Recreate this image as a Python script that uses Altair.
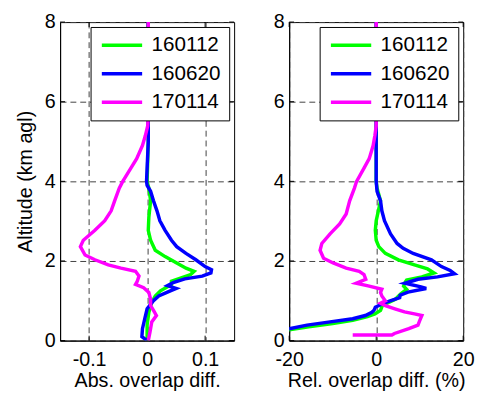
import altair as alt
import pandas as pd

series_names = ["160112", "160620", "170114"]
series_colors = ["#00ff00", "#0000ff", "#ff00ff"]

# ---- Left panel: absolute overlap difference ----
abs_g_alt = [0, 0.39, 0.71, 0.96, 1.12, 1.25, 1.41, 1.49, 1.58, 1.66, 1.74, 1.82, 1.95, 2.11, 2.27, 2.52, 2.77, 3.10, 3.51, 3.83, 4.0, 5.0, 6.0, 7.0, 8.0]
abs_g_x = [0, 0, 0.003, 0.008, 0.014, 0.023, 0.042, 0.042, 0.060, 0.075, 0.081, 0.067, 0.051, 0.031, 0.014, 0.006, 0.002, 0.003, 0.006, 0.003, 0, 0.002, 0.002, 0.002, 0.002]

abs_b_alt = [0, 0.1, 0.3, 0.55, 0.8, 1.0, 1.12, 1.25, 1.31, 1.38, 1.46, 1.55, 1.62, 1.70, 1.78, 1.86, 2.03, 2.19, 2.36, 2.52, 2.77, 3.01, 3.26, 3.51, 3.75, 3.9, 4.0, 5.0, 6.0, 7.0, 8.0]
abs_b_x = [0, -0.009, -0.008, -0.004, 0, 0.011, 0.020, 0.040, 0.050, 0.035, 0.045, 0.065, 0.095, 0.110, 0.111, 0.100, 0.084, 0.067, 0.051, 0.042, 0.031, 0.022, 0.017, 0.011, 0.006, 0.0, -0.001, 0.002, 0.002, 0.002, 0.002]

abs_m_alt = [0, 0.22, 0.47, 0.63, 0.76, 0.88, 1.04, 1.21, 1.33, 1.41, 1.49, 1.62, 1.74, 1.82, 1.90, 2.03, 2.15, 2.36, 2.52, 2.77, 3.01, 3.26, 3.51, 3.83, 4.0, 4.33, 4.57, 4.90, 5.15, 5.39, 5.64, 6.0, 7.0, 8.0]
abs_m_x = [0.002, 0.005, 0.008, 0.016, 0.011, 0.006, 0.006, 0.003, -0.006, -0.020, -0.017, -0.014, -0.020, -0.045, -0.067, -0.090, -0.107, -0.115, -0.110, -0.090, -0.073, -0.062, -0.056, -0.048, -0.042, -0.028, -0.018, -0.008, -0.003, 0.001, 0.002, 0.002, 0.002, 0.002]

# ---- Right panel: relative overlap difference (%) ----
rel_g_alt = [0.24, 0.27, 0.35, 0.43, 0.51, 0.60, 0.67, 0.76, 0.88, 1.04, 1.17, 1.29, 1.37, 1.45, 1.52, 1.60, 1.70, 1.80, 1.90, 2.03, 2.19, 2.36, 2.52, 2.77, 3.01, 3.51, 3.83, 4.0, 5.0, 6.0, 7.0, 8.0]
rel_g_x = [-24, -20, -15.5, -10, -5.4, -2.0, -0.3, 1.0, 1.4, 4.4, 5.6, 7.0, 6.3, 6.6, 7.0, 10.5, 13.3, 11.8, 8.8, 5.1, 2.1, 0.6, 0.0, -0.2, 0.0, 1.0, 0.2, 0, 0, 0, 0, 0]

rel_b_alt = [0.27, 0.30, 0.39, 0.47, 0.55, 0.63, 0.71, 0.76, 0.84, 0.92, 1.0, 1.08, 1.14, 1.22, 1.31, 1.35, 1.44, 1.54, 1.60, 1.68, 1.76, 1.86, 2.03, 2.19, 2.32, 2.44, 2.68, 3.01, 3.26, 3.51, 3.75, 4.0, 5.0, 6.0, 7.0, 8.0]
rel_b_x = [-24, -20, -15.9, -10.6, -5.4, -2.5, -1.0, -0.5, -0.2, 1.3, 3.2, 5.4, 5.5, 7.3, 11.5, 10.3, 6.6, 9.6, 14.1, 18.0, 17.0, 15.0, 12.7, 8.5, 6.2, 4.8, 3.3, 1.9, 1.3, 1.0, 0.2, 0, 0, 0, 0, 0]

rel_m_alt = [0.14, 0.14, 0.18, 0.30, 0.39, 0.50, 0.63, 0.67, 0.72, 0.80, 0.88, 0.94, 1.0, 1.12, 1.21, 1.29, 1.37, 1.44, 1.54, 1.66, 1.74, 1.82, 1.95, 2.07, 2.27, 2.44, 2.68, 2.93, 3.18, 3.51, 3.83, 4.0, 4.33, 4.57, 4.9, 5.15, 5.39, 6.0, 7.0, 8.0]
rel_m_x = [-5.4, 3.6, 4.2, 7.5, 9.6, 10.0, 10.5, 8.8, 6.5, 4.3, 2.1, 1.0, 2.1, 1.3, 1.0, 1.3, -1.6, -4.6, -2.4, -2.8, -3.9, -6.9, -9.9, -12.1, -12.9, -12.5, -10.6, -8.4, -6.9, -6.1, -5.0, -4.5, -2.8, -1.6, -0.7, -0.3, 0, 0, 0, 0]

y_ticks = [0, 2, 4, 6, 8]
abs_ticks = [-0.1, 0, 0.1]
rel_ticks = [-20, 0, 20]

FONT = "Liberation Sans"
FS = 20
W, H = 177, 324


def make_df(groups):
    rows = []
    for name, xs, ys in groups:
        for i, (xv, yv) in enumerate(zip(xs, ys)):
            rows.append({"series": name, "x": xv, "alt": yv, "i": i})
    return pd.DataFrame(rows)


def panel(df, xdomain, xticks, xtitle, ytitle):
    xscale = alt.Scale(domain=xdomain, nice=False, zero=False)
    yscale = alt.Scale(domain=[0, 8], nice=False, zero=False)
    xaxis = alt.Axis(values=xticks, title=xtitle, grid=True, ticks=False, tickSize=0,
                     labelPadding=9, titlePadding=2, labelFlush=False, labelOverlap=False,
                     labelExpr="'' + datum.value")
    yaxis = alt.Axis(values=y_ticks, title=ytitle if ytitle else None, grid=True, ticks=False, tickSize=0,
                     labelPadding=5, titlePadding=9, labelFlush=False, labelOverlap=False,
                     labelExpr="'' + datum.value")
    lines = alt.Chart(df).mark_line(strokeWidth=3.5, clip=True).encode(
        x=alt.X("x:Q", scale=xscale, axis=xaxis),
        y=alt.Y("alt:Q", scale=yscale, axis=yaxis),
        color=alt.Color("series:N",
                        scale=alt.Scale(domain=series_names, range=series_colors),
                        legend=alt.Legend(title=None, orient="top-right", offset=5,
                                          symbolType="M-1,0H4.8", symbolSize=200,
                                          symbolStrokeWidth=3.5, labelFontSize=FS + 1,
                                          labelFont=FONT, labelColor="black",
                                          fillColor="white", strokeColor="black",
                                          padding=8, rowPadding=7, labelOffset=33)),
        order=alt.Order("i:Q"),
    )
    xt = pd.DataFrame({"x": xticks})
    yt = pd.DataFrame({"alt": y_ticks})
    xb = alt.Chart(xt).mark_rule(color="black").encode(
        x=alt.X("x:Q", scale=xscale, axis=xaxis), y=alt.value(H), y2=alt.value(H - 5))
    xtop = alt.Chart(xt).mark_rule(color="black").encode(
        x=alt.X("x:Q", scale=xscale, axis=xaxis), y=alt.value(0), y2=alt.value(5))
    yl = alt.Chart(yt).mark_rule(color="black").encode(
        y=alt.Y("alt:Q", scale=yscale, axis=yaxis), x=alt.value(0), x2=alt.value(5))
    yr = alt.Chart(yt).mark_rule(color="black").encode(
        y=alt.Y("alt:Q", scale=yscale, axis=yaxis), x=alt.value(W - 5), x2=alt.value(W))
    return alt.layer(xb, xtop, yl, yr, lines).properties(width=W, height=H)


df_abs = make_df([
    ("160112", abs_g_x, abs_g_alt),
    ("160620", abs_b_x, abs_b_alt),
    ("170114", abs_m_x, abs_m_alt),
])
df_rel = make_df([
    ("160112", rel_g_x, rel_g_alt),
    ("160620", rel_b_x, rel_b_alt),
    ("170114", rel_m_x, rel_m_alt),
])

left = panel(df_abs, [-0.15, 0.15], abs_ticks, "Abs. overlap diff.", "Altitude (km agl)")
right = panel(df_rel, [-20, 20], rel_ticks, "Rel. overlap diff. (%)", None)

chart = alt.hconcat(left, right, spacing=38).resolve_scale(
    color="independent", x="independent", y="independent"
).resolve_legend(color="independent").properties(
    padding={"left": 7, "top": 0, "right": 0, "bottom": 0},
    background="white",
).configure_view(
    stroke="black", strokeWidth=1
).configure_axis(
    domainColor="black", domainWidth=1, labelColor="black", titleColor="black",
    labelFont=FONT, titleFont=FONT, labelFontSize=FS, titleFontSize=FS,
    titleFontWeight="normal", gridColor="#404040", gridDash=[6, 4], gridWidth=1, gridOpacity=1,
)

chart.save("out.html", embed_options={"renderer": "svg", "actions": False})
